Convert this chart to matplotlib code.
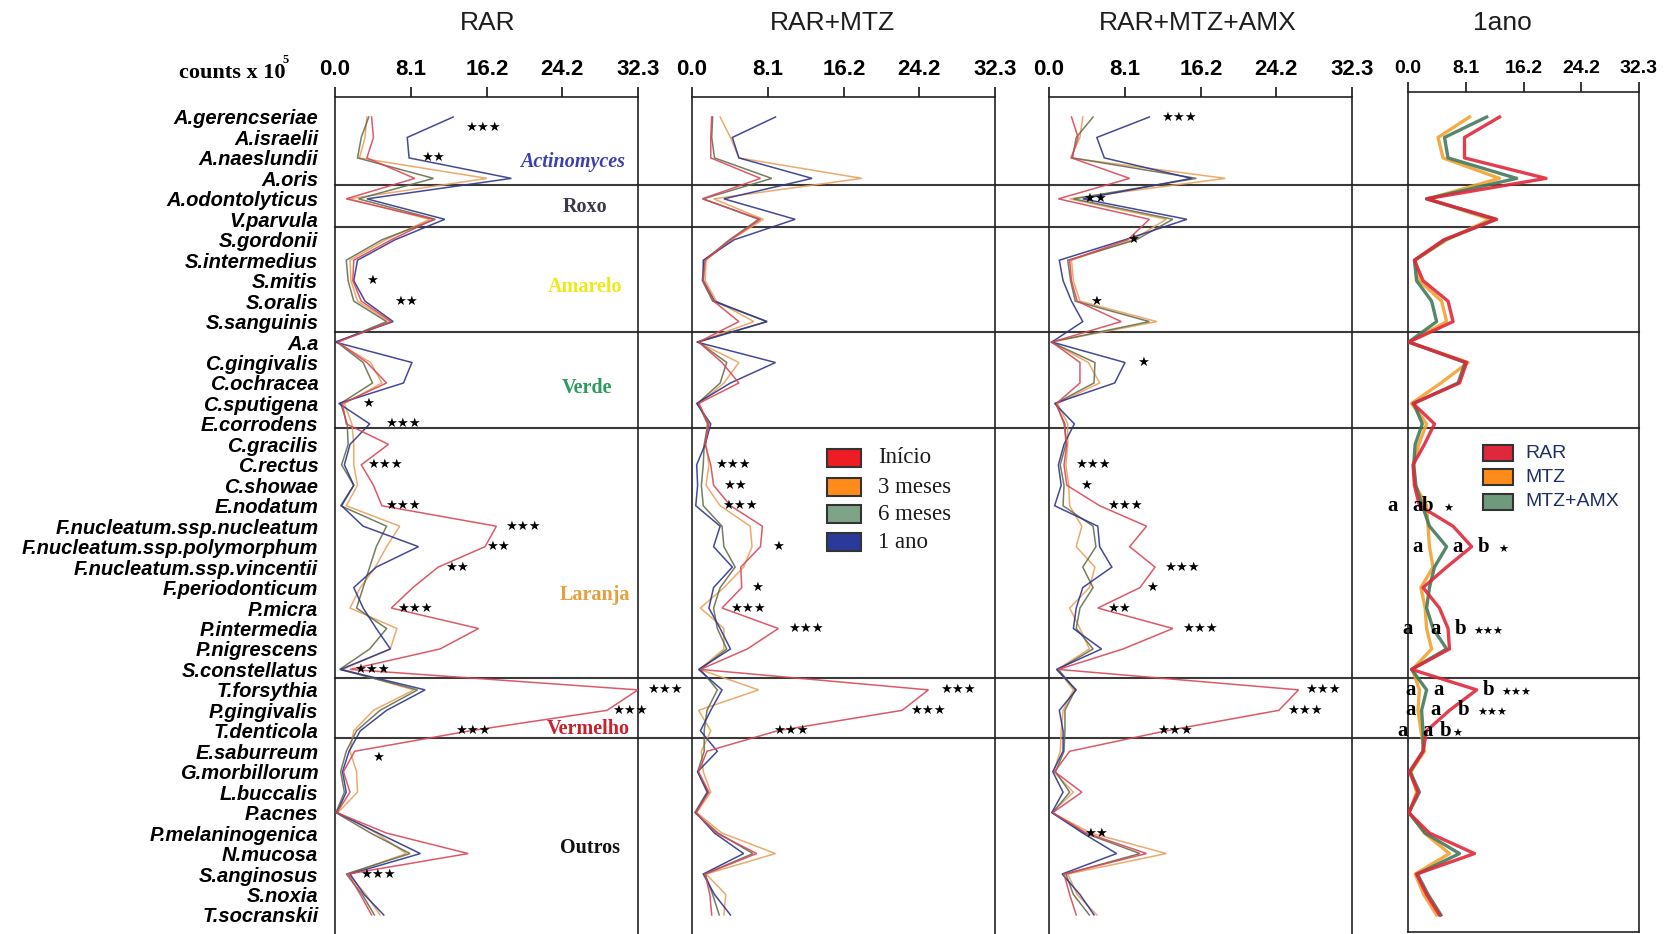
import matplotlib
matplotlib.use("Agg")
import matplotlib.pyplot as plt
from matplotlib.patches import Rectangle

# ---------------- data ----------------
species = [
    "A.gerencseriae", "A.israelii", "A.naeslundii", "A.oris", "A.odontolyticus",
    "V.parvula", "S.gordonii", "S.intermedius", "S.mitis", "S.oralis",
    "S.sanguinis", "A.a", "C.gingivalis", "C.ochracea", "C.sputigena",
    "E.corrodens", "C.gracilis", "C.rectus", "C.showae", "E.nodatum",
    "F.nucleatum.ssp.nucleatum", "F.nucleatum.ssp.polymorphum",
    "F.nucleatum.ssp.vincentii", "F.periodonticum", "P.micra", "P.intermedia",
    "P.nigrescens", "S.constellatus", "T.forsythia", "P.gingivalis",
    "T.denticola", "E.saburreum", "G.morbillorum", "L.buccalis", "P.acnes",
    "P.melaninogenica", "N.mucosa", "S.anginosus", "S.noxia", "T.socranskii",
]

tick_values = [0.0, 8.1, 16.2, 24.2, 32.3]
tick_labels = ["0.0", "8.1", "16.2", "24.2", "32.3"]

panel_titles = ["RAR", "RAR+MTZ", "RAR+MTZ+AMX", "1ano"]
time_labels = ["Início", "3 meses", "6 meses", "1 ano"]
group_labels = ["RAR", "MTZ", "MTZ+AMX"]

# RAR (counts x 10^5)
rar_inicio = [3.9, 4.1, 3.4, 8.5, 1.2, 10.5, 6.0, 2.0, 1.9, 2.8,
              6.0, 0.3, 3.4, 5.5, 0.8, 1.2, 5.7, 2.8, 4.1, 5.0,
              17.2, 16.0, 11.0, 8.3, 6.0, 15.3, 11.2, 1.6, 32.3, 29.0,
              14.4, 2.1, 0.9, 1.6, 0.2, 5.5, 14.2, 1.4, 2.7, 3.9]
rar_3m = [3.4, 3.2, 2.6, 16.2, 1.5, 10.1, 5.4, 1.6, 1.7, 2.4,
          5.8, 0.2, 3.8, 5.0, 1.0, 1.8, 2.0, 2.0, 2.4, 1.2,
          6.9, 5.5, 4.3, 2.7, 1.6, 6.6, 5.9, 0.8, 8.4, 4.1,
          2.0, 1.6, 2.3, 2.4, 0.3, 4.4, 7.6, 1.4, 3.3, 4.8]
rar_6m = [3.6, 2.8, 2.4, 10.5, 2.5, 10.7, 5.0, 1.2, 1.4, 2.0,
          5.5, 0.2, 3.0, 4.0, 0.6, 1.3, 1.4, 0.7, 2.0, 0.6,
          5.5, 4.4, 3.7, 3.0, 2.3, 5.5, 3.7, 0.5, 8.8, 4.8,
          2.3, 1.2, 0.6, 1.0, 0.1, 3.8, 8.0, 1.2, 2.9, 4.2]
rar_1a = [12.6, 7.7, 7.9, 18.8, 3.4, 11.7, 6.4, 2.4, 2.0, 3.2,
          6.2, 0.0, 8.2, 7.3, 0.4, 3.7, 1.6, 1.0, 2.0, 0.7,
          3.0, 8.9, 4.4, 2.0, 3.0, 4.4, 5.9, 0.6, 9.6, 5.5,
          2.7, 1.5, 0.8, 1.2, 0.2, 4.6, 9.1, 1.6, 3.1, 5.2]

# RAR+MTZ
mtz_inicio = [2.1, 2.0, 2.0, 7.3, 1.1, 7.3, 4.1, 1.4, 1.2, 2.3,
              5.0, 0.7, 3.2, 5.0, 0.7, 1.8, 1.4, 2.0, 2.3, 4.1,
              7.5, 7.3, 5.2, 5.3, 3.2, 9.2, 5.9, 0.9, 25.2, 22.4,
              9.1, 1.6, 0.7, 1.8, 0.4, 2.6, 6.9, 1.4, 1.9, 2.1]
mtz_3m = [3.0, 4.1, 5.0, 18.1, 2.3, 7.6, 4.2, 1.5, 1.4, 2.6,
          6.6, 0.6, 5.0, 3.4, 0.8, 1.6, 1.5, 1.8, 1.5, 3.0,
          6.2, 6.4, 5.5, 3.4, 0.9, 3.4, 3.4, 0.8, 7.1, 0.7,
          2.0, 1.0, 1.2, 2.0, 0.5, 3.2, 8.9, 1.5, 3.6, 3.4]
mtz_6m = [2.2, 2.1, 2.4, 8.5, 1.2, 7.1, 4.0, 1.3, 1.1, 2.2,
          8.0, 0.7, 3.7, 3.0, 0.6, 1.7, 1.3, 1.2, 1.0, 1.2,
          3.2, 3.4, 4.6, 3.0, 2.3, 2.7, 3.7, 0.9, 2.7, 1.6,
          1.3, 1.3, 0.6, 1.6, 0.3, 2.8, 6.5, 1.4, 2.2, 2.9]
mtz_1a = [8.9, 4.3, 5.0, 12.8, 3.4, 11.0, 4.5, 1.2, 1.2, 2.4,
          8.0, 0.5, 8.9, 4.1, 0.5, 2.0, 1.4, 0.5, 0.6, 0.4,
          3.0, 2.3, 4.3, 2.3, 1.8, 3.0, 4.1, 0.7, 3.2, 2.0,
          0.9, 2.7, 0.6, 1.7, 0.4, 2.4, 5.5, 1.2, 2.4, 4.1]

# RAR+MTZ+AMX
amx_inicio = [2.4, 3.1, 2.4, 8.6, 1.0, 10.7, 8.4, 2.2, 2.4, 3.0,
              7.7, 0.3, 3.3, 3.3, 0.8, 1.6, 1.9, 1.6, 1.9, 5.4,
              10.4, 8.6, 11.3, 9.7, 5.2, 13.2, 7.9, 1.0, 26.6, 24.5,
              12.5, 2.2, 0.6, 3.5, 0.4, 4.0, 10.4, 1.6, 2.2, 2.9]
amx_3m = [3.6, 3.3, 2.3, 18.8, 2.2, 12.5, 8.9, 2.4, 2.6, 3.3,
          11.5, 0.2, 4.2, 5.4, 0.9, 2.0, 2.0, 1.8, 2.1, 2.2,
          3.5, 2.9, 4.9, 4.3, 2.2, 3.3, 4.3, 0.9, 2.6, 1.5,
          1.3, 1.2, 0.5, 2.6, 0.3, 4.5, 12.5, 2.0, 3.0, 5.1]
amx_6m = [4.7, 2.9, 2.5, 15.7, 2.6, 13.2, 9.3, 2.0, 2.3, 2.8,
          10.7, 0.2, 4.9, 4.8, 0.7, 1.7, 1.8, 1.2, 1.6, 1.5,
          4.7, 5.0, 3.6, 4.7, 3.3, 2.9, 4.7, 1.0, 2.8, 1.7,
          1.7, 1.6, 0.7, 2.2, 0.4, 3.8, 9.7, 1.8, 2.6, 4.3]
amx_1a = [10.7, 5.1, 5.9, 15.2, 3.6, 14.7, 8.1, 1.1, 1.5, 2.4,
          3.6, 0.3, 8.1, 7.0, 0.6, 2.7, 1.6, 1.0, 1.3, 0.6,
          5.2, 5.4, 6.7, 3.6, 2.9, 2.6, 5.6, 0.8, 2.9, 1.1,
          1.5, 1.5, 0.4, 1.5, 0.3, 3.6, 7.2, 1.4, 3.3, 4.8]

# one year, by therapy
ano_rar = [12.8, 7.9, 7.9, 19.3, 2.6, 12.4, 5.0, 0.9, 2.1, 5.6,
           6.3, 0.1, 8.2, 7.2, 0.7, 3.7, 2.3, 0.7, 0.9, 1.6,
           6.3, 8.9, 5.4, 2.1, 4.4, 5.6, 5.8, 0.5, 9.6, 5.8,
           2.6, 2.1, 0.2, 1.4, 0.1, 3.0, 9.3, 1.2, 2.6, 4.4]
ano_mtz = [8.6, 4.2, 4.9, 12.8, 2.8, 11.5, 5.4, 1.0, 1.6, 4.7,
           5.4, 0.1, 8.4, 4.6, 0.5, 2.6, 1.5, 0.8, 1.0, 2.6,
           2.8, 3.0, 3.5, 1.8, 2.4, 2.6, 3.3, 0.6, 1.6, 1.4,
           1.8, 2.3, 0.4, 1.2, 0.2, 2.3, 5.8, 1.0, 2.2, 4.0]
ano_amx = [11.0, 5.1, 5.6, 15.2, 2.6, 12.2, 5.2, 0.9, 1.2, 3.3,
           4.0, 0.1, 8.0, 7.0, 0.8, 2.0, 1.0, 0.8, 1.1, 2.0,
           3.0, 5.4, 3.7, 3.0, 2.6, 3.5, 5.4, 0.5, 2.6, 1.9,
           2.1, 2.1, 0.3, 1.6, 0.1, 2.4, 7.2, 1.3, 2.8, 4.6]

# ---------------- styling ----------------
time_colors = ["#d9475a", "#e9a25e", "#66704f", "#30368a"]
legend_time_colors = ["#ee1c25", "#ff8c1a", "#7fa386", "#2b3a9a"]
group_colors = ["#e0283c", "#f2a232", "#447a5c"]

W, H = 1668, 934
fig = plt.figure(figsize=(W / 100, H / 100), dpi=100)

ROW0, ROWSTEP = 117.0, 20.46


def row_of(ypx):
    return (ypx - ROW0) / ROWSTEP


def fx(x):
    return x / W


def fy(y):
    return 1 - y / H


def add_panel(left, right, top, bottom):
    ax = fig.add_axes([fx(left), fy(bottom), (right - left) / W, (bottom - top) / H])
    ax.set_facecolor("none")
    ax.set_xlim(0, 32.3)
    ax.set_ylim(row_of(bottom), row_of(top))
    ax.xaxis.tick_top()
    ax.set_xticks(tick_values)
    for s in ("left", "right", "top", "bottom"):
        ax.spines[s].set_color("#222222")
        ax.spines[s].set_linewidth(1.2)
    return ax


panels = [
    add_panel(335, 638, 97, 934),
    add_panel(692, 995, 97, 934),
    add_panel(1049, 1352, 97, 934),
    add_panel(1408, 1639, 92, 932),
]
for ax in panels[:3]:
    ax.spines["bottom"].set_visible(False)
    ax.set_xticklabels(tick_labels, fontsize=16, fontweight="bold",
                       family="Liberation Sans")
    ax.tick_params(axis="x", direction="out", length=7, width=1.1, pad=5)
ax4 = panels[3]
ax4.set_xticklabels(tick_labels, fontsize=14, fontweight="bold",
                    family="Liberation Sans")
ax4.tick_params(axis="x", direction="out", length=7, width=1.1, pad=4)

rows = list(range(len(species)))
ax1 = panels[0]
ax1.set_yticks(rows)
ax1.set_yticklabels(species, fontsize=14.5, fontweight="bold", fontstyle="italic",
                    family="Liberation Sans")
ax1.tick_params(axis="y", length=0, pad=12)
for ax in panels[1:]:
    ax.set_yticks([])

# group separators spanning all panels
for ypx in (185, 227, 332, 428, 678, 738):
    ax1.axhline(row_of(ypx), xmin=0, xmax=(1639 - 335) / 303, clip_on=False,
                color="#3a3a3a", lw=1.5, zorder=1)

# time-course profiles
series = [
    (rar_inicio, rar_3m, rar_6m, rar_1a),
    (mtz_inicio, mtz_3m, mtz_6m, mtz_1a),
    (amx_inicio, amx_3m, amx_6m, amx_1a),
]
for ax, sset in zip(panels[:3], series):
    for idx in (1, 2, 3, 0):
        ax.plot(sset[idx], rows, color=time_colors[idx], lw=1.1, alpha=0.9,
                solid_joinstyle="miter", zorder=3)

for vals, col in zip((ano_mtz, ano_amx, ano_rar), (group_colors[1], group_colors[2], group_colors[0])):
    ax4.plot(vals, rows, color=col, lw=2.4, alpha=0.9, zorder=3)

# titles
for ax, title, xpx in zip(panels, panel_titles, (488, 833, 1198, 1502)):
    fig.text(fx(xpx), fy(23), title, ha="center", va="center", fontsize=19,
             family="Liberation Sans", color="#1e1e1e")

fig.text(fx(232), fy(73), "counts x 10", ha="center", va="center", fontsize=16,
         fontweight="bold", family="Liberation Serif")
fig.text(fx(286), fy(60), "5", ha="center", va="center", fontsize=9,
         fontweight="bold", family="Liberation Serif")

# group names inside first panel
group_names = [
    ("Actinomyces", 25.3, 162, "#3b3fb0", "italic"),
    ("Roxo", 26.7, 207, "#3a3a4a", "normal"),
    ("Amarelo", 26.7, 287, "#eeea1a", "normal"),
    ("Verde", 26.9, 388, "#2e9a5e", "normal"),
    ("Laranja", 27.7, 595, "#e6a040", "normal"),
    ("Vermelho", 27.0, 729, "#c8202c", "normal"),
    ("Outros", 27.2, 848, "#111111", "normal"),
]
for name, xv, ypx, col, style in group_names:
    ax1.text(xv, row_of(ypx), name, ha="center", va="center", fontsize=14.5,
             fontweight="bold", fontstyle=style, family="Liberation Serif",
             color=col, zorder=4)

# significance marks (value-axis position, row, marks)
star_marks = [
    [(15.8, 0.5, 3), (10.4, 2, 2), (3.9, 8, 1), (7.6, 9, 2), (3.5, 14, 1),
     (7.2, 15, 3), (5.3, 17, 3), (7.2, 19, 3), (20.0, 20, 3), (17.4, 21, 2),
     (13.0, 22, 2), (8.5, 24, 3), (3.9, 27, 3), (35.2, 28, 3), (31.4, 29, 3),
     (14.7, 30, 3), (4.6, 31.3, 1), (4.6, 37, 3)],
    [(4.4, 17, 3), (4.6, 18, 2), (5.1, 19, 3), (9.2, 21, 1), (6.9, 23, 1),
     (6.0, 24, 3), (12.2, 25, 3), (28.3, 28, 3), (25.2, 29, 3), (10.5, 30, 3)],
    [(13.8, 0, 3), (4.9, 4, 2), (9.0, 6, 1), (5.0, 9, 1), (10.0, 12, 1),
     (4.7, 17, 3), (4.0, 18, 1), (8.1, 19, 3), (14.2, 22, 3), (11.0, 23, 1),
     (7.5, 24, 2), (16.1, 25, 3), (29.2, 28, 3), (27.3, 29, 3), (13.4, 30, 3),
     (5.0, 35, 2)],
]
for ax, marks in zip(panels[:3], star_marks):
    for xv, r, n in marks:
        ax.text(xv, r, "★" * n, ha="center", va="center", fontsize=9.5,
                family="DejaVu Sans", color="black", clip_on=False, zorder=5)

# pairwise letters at one year
letter_marks = [
    (19, [(-2.2, "a"), (1.3, "a"), (2.8, "b")], (5.6, 1)),
    (21, [(1.4, "a"), (6.9, "a"), (10.5, "b")], (13.3, 1)),
    (25, [(0.0, "a"), (3.9, "a"), (7.3, "b")], (11.2, 3)),
    (28, [(0.3, "a"), (4.3, "a"), (11.2, "b")], (15.2, 3)),
    (29, [(0.3, "a"), (3.9, "a"), (7.7, "b")], (11.8, 3)),
    (30, [(-0.8, "a"), (2.8, "a"), (5.2, "b")], (6.9, 1)),
]
for r, letters, (sx, n) in letter_marks:
    for xv, ch in letters:
        ax4.text(xv, r, ch, ha="center", va="center", fontsize=15,
                 fontweight="bold", family="Liberation Serif", clip_on=False, zorder=5)
    ax4.text(sx, r + 0.15, "★" * n, ha="center", va="center", fontsize=8,
             family="DejaVu Sans", clip_on=False, zorder=5)

# legends
for i, (lab, col) in enumerate(zip(time_labels, legend_time_colors)):
    yc = [458, 487, 514, 542][i]
    fig.add_artist(Rectangle((fx(827), fy(yc + 9)), 34 / W, 18 / H,
                             transform=fig.transFigure, facecolor=col,
                             edgecolor="#333333", lw=1.5))
    fig.text(fx(878), fy(yc), lab, ha="left", va="center", fontsize=16.5,
             family="Liberation Serif", color="#1a1a1a")

for i, (lab, col) in enumerate(zip(group_labels, ["#e0283c", "#ff8c1a", "#6f9a7e"])):
    yc = [453, 477, 502][i]
    fig.add_artist(Rectangle((fx(1483), fy(yc + 8)), 30 / W, 16 / H,
                             transform=fig.transFigure, facecolor=col,
                             edgecolor="#333333", lw=1.5))
    fig.text(fx(1525), fy(yc), lab, ha="left", va="center", fontsize=14,
             family="Liberation Sans", color="#1f2f66")

fig.savefig("out.png", dpi=100)
